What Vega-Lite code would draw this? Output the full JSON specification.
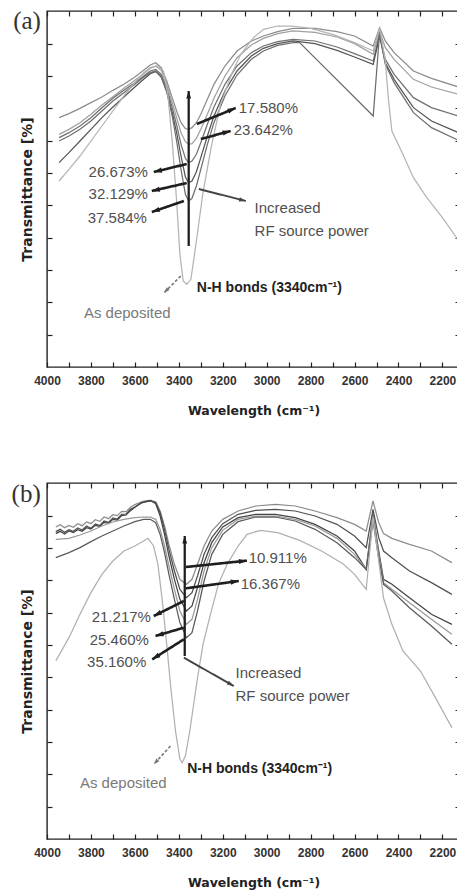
{
  "$schema": "https://vega.github.io/schema/vega-lite/v6.json",
  "background": "white",
  "padding": {"left": 10, "top": 8, "right": 0, "bottom": 0},
  "config": {
    "view": {"stroke": "#222", "strokeWidth": 1.4},
    "axis": {"grid": false, "domain": false, "ticks": true, "tickColor": "#222", "tickWidth": 1.2, "tickSize": -5,
      "labelFont": "Liberation Sans Narrow, Liberation Sans", "labelFontWeight": "bold", "labelFontSize": 12, "labelColor": "#333", "labelPadding": 13,
      "titleFont": "DejaVu Sans", "titleFontWeight": "bold", "titleColor": "#222"}
  },
  "datasets": {
    "specA": [
      {"s":"A1","w":3945,"T":74.8},{"s":"A1","w":3900,"T":76.0},{"s":"A1","w":3850,"T":77.6},{"s":"A1","w":3800,"T":79.3},{"s":"A1","w":3750,"T":81.0},{"s":"A1","w":3700,"T":83.0},{"s":"A1","w":3650,"T":84.8},{"s":"A1","w":3600,"T":87.0},{"s":"A1","w":3560,"T":89.0},{"s":"A1","w":3530,"T":90.6},{"s":"A1","w":3505,"T":91.3},{"s":"A1","w":3480,"T":89.8},{"s":"A1","w":3455,"T":85.8},{"s":"A1","w":3430,"T":80.8},{"s":"A1","w":3410,"T":76.8},{"s":"A1","w":3390,"T":73.3},{"s":"A1","w":3370,"T":71.5},{"s":"A1","w":3355,"T":71.3},{"s":"A1","w":3340,"T":71.8},{"s":"A1","w":3320,"T":73.3},{"s":"A1","w":3300,"T":75.8},{"s":"A1","w":3270,"T":80.3},{"s":"A1","w":3240,"T":84.8},{"s":"A1","w":3190,"T":90.3},{"s":"A1","w":3135,"T":94.8},{"s":"A1","w":3070,"T":97.8},{"s":"A1","w":3015,"T":99.3},{"s":"A1","w":2950,"T":100.6},{"s":"A1","w":2880,"T":101.6},{"s":"A1","w":2780,"T":101.6},{"s":"A1","w":2680,"T":100.6},{"s":"A1","w":2600,"T":99.3},{"s":"A1","w":2515,"T":96.3},{"s":"A1","w":2486,"T":101.8},{"s":"A1","w":2460,"T":97.8},{"s":"A1","w":2420,"T":94.3},{"s":"A1","w":2332,"T":88.8},{"s":"A1","w":2250,"T":86.6},{"s":"A1","w":2127,"T":84.0},
      {"s":"A2","w":3945,"T":69.8},{"s":"A2","w":3900,"T":71.3},{"s":"A2","w":3850,"T":73.3},{"s":"A2","w":3800,"T":75.8},{"s":"A2","w":3750,"T":78.6},{"s":"A2","w":3700,"T":81.1},{"s":"A2","w":3650,"T":83.6},{"s":"A2","w":3600,"T":86.0},{"s":"A2","w":3560,"T":88.0},{"s":"A2","w":3530,"T":89.6},{"s":"A2","w":3505,"T":90.3},{"s":"A2","w":3480,"T":89.0},{"s":"A2","w":3455,"T":84.8},{"s":"A2","w":3430,"T":79.3},{"s":"A2","w":3410,"T":74.8},{"s":"A2","w":3390,"T":70.3},{"s":"A2","w":3370,"T":67.6},{"s":"A2","w":3355,"T":66.8},{"s":"A2","w":3340,"T":67.0},{"s":"A2","w":3320,"T":68.6},{"s":"A2","w":3300,"T":71.3},{"s":"A2","w":3270,"T":75.8},{"s":"A2","w":3240,"T":80.6},{"s":"A2","w":3190,"T":87.3},{"s":"A2","w":3135,"T":92.8},{"s":"A2","w":3070,"T":96.6},{"s":"A2","w":3015,"T":98.6},{"s":"A2","w":2950,"T":100.0},{"s":"A2","w":2880,"T":100.8},{"s":"A2","w":2780,"T":100.4},{"s":"A2","w":2680,"T":99.0},{"s":"A2","w":2600,"T":97.0},{"s":"A2","w":2515,"T":93.8},{"s":"A2","w":2486,"T":100.8},{"s":"A2","w":2460,"T":95.8},{"s":"A2","w":2420,"T":92.3},{"s":"A2","w":2332,"T":86.3},{"s":"A2","w":2250,"T":84.0},{"s":"A2","w":2127,"T":81.8},
      {"s":"A3","w":3945,"T":68.8},{"s":"A3","w":3900,"T":70.3},{"s":"A3","w":3850,"T":72.3},{"s":"A3","w":3800,"T":74.8},{"s":"A3","w":3750,"T":77.8},{"s":"A3","w":3700,"T":80.6},{"s":"A3","w":3650,"T":83.0},{"s":"A3","w":3600,"T":85.3},{"s":"A3","w":3560,"T":87.3},{"s":"A3","w":3530,"T":88.8},{"s":"A3","w":3505,"T":89.3},{"s":"A3","w":3480,"T":87.8},{"s":"A3","w":3455,"T":83.6},{"s":"A3","w":3430,"T":77.8},{"s":"A3","w":3410,"T":72.6},{"s":"A3","w":3390,"T":66.8},{"s":"A3","w":3370,"T":62.6},{"s":"A3","w":3355,"T":61.3},{"s":"A3","w":3340,"T":61.8},{"s":"A3","w":3320,"T":63.8},{"s":"A3","w":3300,"T":67.3},{"s":"A3","w":3270,"T":72.8},{"s":"A3","w":3240,"T":78.0},{"s":"A3","w":3190,"T":84.8},{"s":"A3","w":3135,"T":90.3},{"s":"A3","w":3070,"T":94.3},{"s":"A3","w":3015,"T":96.3},{"s":"A3","w":2950,"T":97.6},{"s":"A3","w":2880,"T":98.3},{"s":"A3","w":2780,"T":97.8},{"s":"A3","w":2680,"T":96.0},{"s":"A3","w":2600,"T":94.0},{"s":"A3","w":2515,"T":91.8},{"s":"A3","w":2486,"T":99.8},{"s":"A3","w":2460,"T":92.3},{"s":"A3","w":2420,"T":87.8},{"s":"A3","w":2332,"T":80.8},{"s":"A3","w":2250,"T":77.8},{"s":"A3","w":2127,"T":75.3},
      {"s":"A4","w":3945,"T":61.3},{"s":"A4","w":3900,"T":64.3},{"s":"A4","w":3850,"T":67.8},{"s":"A4","w":3800,"T":71.3},{"s":"A4","w":3750,"T":74.8},{"s":"A4","w":3700,"T":78.0},{"s":"A4","w":3650,"T":81.0},{"s":"A4","w":3600,"T":84.0},{"s":"A4","w":3560,"T":86.3},{"s":"A4","w":3530,"T":88.0},{"s":"A4","w":3505,"T":88.6},{"s":"A4","w":3480,"T":87.0},{"s":"A4","w":3455,"T":82.6},{"s":"A4","w":3430,"T":76.3},{"s":"A4","w":3410,"T":70.3},{"s":"A4","w":3390,"T":63.3},{"s":"A4","w":3370,"T":57.0},{"s":"A4","w":3355,"T":55.3},{"s":"A4","w":3340,"T":55.8},{"s":"A4","w":3320,"T":58.6},{"s":"A4","w":3300,"T":62.8},{"s":"A4","w":3270,"T":69.3},{"s":"A4","w":3240,"T":75.3},{"s":"A4","w":3190,"T":82.8},{"s":"A4","w":3135,"T":88.8},{"s":"A4","w":3070,"T":93.3},{"s":"A4","w":3015,"T":95.6},{"s":"A4","w":2950,"T":97.0},{"s":"A4","w":2880,"T":97.8},{"s":"A4","w":2780,"T":97.0},{"s":"A4","w":2680,"T":95.0},{"s":"A4","w":2600,"T":93.0},{"s":"A4","w":2515,"T":90.8},{"s":"A4","w":2486,"T":99.3},{"s":"A4","w":2460,"T":91.3},{"s":"A4","w":2420,"T":86.3},{"s":"A4","w":2332,"T":77.8},{"s":"A4","w":2250,"T":73.8},{"s":"A4","w":2127,"T":70.3},
      {"s":"A5","w":3945,"T":67.8},{"s":"A5","w":3900,"T":69.3},{"s":"A5","w":3850,"T":71.3},{"s":"A5","w":3800,"T":73.8},{"s":"A5","w":3750,"T":76.8},{"s":"A5","w":3700,"T":79.8},{"s":"A5","w":3650,"T":82.3},{"s":"A5","w":3600,"T":84.8},{"s":"A5","w":3560,"T":87.0},{"s":"A5","w":3530,"T":88.3},{"s":"A5","w":3505,"T":88.8},{"s":"A5","w":3480,"T":87.3},{"s":"A5","w":3455,"T":82.6},{"s":"A5","w":3430,"T":75.3},{"s":"A5","w":3410,"T":67.8},{"s":"A5","w":3390,"T":59.3},{"s":"A5","w":3370,"T":51.8},{"s":"A5","w":3355,"T":49.8},{"s":"A5","w":3340,"T":50.6},{"s":"A5","w":3320,"T":54.3},{"s":"A5","w":3300,"T":59.3},{"s":"A5","w":3270,"T":66.8},{"s":"A5","w":3240,"T":73.3},{"s":"A5","w":3190,"T":81.3},{"s":"A5","w":3135,"T":87.6},{"s":"A5","w":3070,"T":92.3},{"s":"A5","w":3015,"T":94.8},{"s":"A5","w":2950,"T":96.5},{"s":"A5","w":2880,"T":97.3},{"s":"A5","w":2850,"T":97.3},{"s":"A5","w":2515,"T":75.3},{"s":"A5","w":2486,"T":100.3},{"s":"A5","w":2460,"T":90.8},{"s":"A5","w":2420,"T":85.3},{"s":"A5","w":2332,"T":76.3},{"s":"A5","w":2250,"T":71.8},{"s":"A5","w":2127,"T":68.0},
      {"s":"A0","w":3945,"T":55.8},{"s":"A0","w":3900,"T":59.3},{"s":"A0","w":3850,"T":63.3},{"s":"A0","w":3800,"T":67.8},{"s":"A0","w":3750,"T":72.3},{"s":"A0","w":3700,"T":76.8},{"s":"A0","w":3650,"T":81.3},{"s":"A0","w":3600,"T":85.3},{"s":"A0","w":3560,"T":88.3},{"s":"A0","w":3530,"T":89.8},{"s":"A0","w":3500,"T":90.3},{"s":"A0","w":3470,"T":88.8},{"s":"A0","w":3450,"T":81.8},{"s":"A0","w":3430,"T":67.8},{"s":"A0","w":3410,"T":49.8},{"s":"A0","w":3395,"T":33.8},{"s":"A0","w":3380,"T":25.8},{"s":"A0","w":3364,"T":24.8},{"s":"A0","w":3345,"T":26.3},{"s":"A0","w":3320,"T":37.8},{"s":"A0","w":3290,"T":52.3},{"s":"A0","w":3250,"T":66.8},{"s":"A0","w":3210,"T":78.8},{"s":"A0","w":3160,"T":87.8},{"s":"A0","w":3118,"T":93.8},{"s":"A0","w":3060,"T":98.8},{"s":"A0","w":3014,"T":101.3},{"s":"A0","w":2950,"T":102.3},{"s":"A0","w":2880,"T":102.3},{"s":"A0","w":2800,"T":101.6},{"s":"A0","w":2700,"T":99.8},{"s":"A0","w":2600,"T":97.3},{"s":"A0","w":2515,"T":94.8},{"s":"A0","w":2486,"T":101.8},{"s":"A0","w":2460,"T":91.8},{"s":"A0","w":2445,"T":79.8},{"s":"A0","w":2430,"T":70.8},{"s":"A0","w":2380,"T":63.8},{"s":"A0","w":2332,"T":56.8},{"s":"A0","w":2271,"T":50.8},{"s":"A0","w":2200,"T":44.8},{"s":"A0","w":2127,"T":38.0}
    ],
    "specB": [
      {"s":"B1","w":3960,"T":93.6},{"s":"B1","w":3940,"T":94.3},{"s":"B1","w":3920,"T":93.4},{"s":"B1","w":3900,"T":94.1},{"s":"B1","w":3880,"T":93.5},{"s":"B1","w":3860,"T":94.6},{"s":"B1","w":3840,"T":94.0},{"s":"B1","w":3820,"T":95.1},{"s":"B1","w":3800,"T":94.6},{"s":"B1","w":3780,"T":95.8},{"s":"B1","w":3760,"T":95.3},{"s":"B1","w":3740,"T":96.6},{"s":"B1","w":3720,"T":96.1},{"s":"B1","w":3700,"T":97.3},{"s":"B1","w":3680,"T":97.0},{"s":"B1","w":3660,"T":98.3},{"s":"B1","w":3640,"T":98.2},{"s":"B1","w":3620,"T":99.5},{"s":"B1","w":3600,"T":100.3},{"s":"B1","w":3560,"T":101.4},{"s":"B1","w":3530,"T":101.6},{"s":"B1","w":3505,"T":101.2},{"s":"B1","w":3485,"T":98.4},{"s":"B1","w":3465,"T":93.9},{"s":"B1","w":3445,"T":88.4},{"s":"B1","w":3420,"T":82.4},{"s":"B1","w":3395,"T":77.9},{"s":"B1","w":3365,"T":76.4},{"s":"B1","w":3340,"T":77.9},{"s":"B1","w":3315,"T":82.4},{"s":"B1","w":3285,"T":87.9},{"s":"B1","w":3250,"T":92.4},{"s":"B1","w":3200,"T":95.9},{"s":"B1","w":3130,"T":98.4},{"s":"B1","w":3050,"T":99.9},{"s":"B1","w":2960,"T":100.4},{"s":"B1","w":2870,"T":99.9},{"s":"B1","w":2780,"T":98.4},{"s":"B1","w":2680,"T":96.4},{"s":"B1","w":2600,"T":94.4},{"s":"B1","w":2547,"T":92.4},{"s":"B1","w":2516,"T":101.4},{"s":"B1","w":2490,"T":94.9},{"s":"B1","w":2468,"T":91.6},{"s":"B1","w":2430,"T":90.2},{"s":"B1","w":2350,"T":88.4},{"s":"B1","w":2250,"T":86.4},{"s":"B1","w":2157,"T":82.9},
      {"s":"B2","w":3960,"T":92.2},{"s":"B2","w":3940,"T":92.9},{"s":"B2","w":3920,"T":92.0},{"s":"B2","w":3900,"T":92.8},{"s":"B2","w":3880,"T":92.3},{"s":"B2","w":3860,"T":93.3},{"s":"B2","w":3840,"T":92.7},{"s":"B2","w":3820,"T":93.9},{"s":"B2","w":3800,"T":93.2},{"s":"B2","w":3780,"T":94.5},{"s":"B2","w":3760,"T":94.0},{"s":"B2","w":3740,"T":95.4},{"s":"B2","w":3720,"T":95.0},{"s":"B2","w":3700,"T":96.3},{"s":"B2","w":3680,"T":96.0},{"s":"B2","w":3660,"T":97.4},{"s":"B2","w":3640,"T":97.5},{"s":"B2","w":3620,"T":98.9},{"s":"B2","w":3600,"T":99.6},{"s":"B2","w":3570,"T":100.8},{"s":"B2","w":3530,"T":101.4},{"s":"B2","w":3505,"T":100.9},{"s":"B2","w":3485,"T":97.9},{"s":"B2","w":3465,"T":92.9},{"s":"B2","w":3445,"T":86.9},{"s":"B2","w":3420,"T":80.4},{"s":"B2","w":3395,"T":74.9},{"s":"B2","w":3365,"T":72.4},{"s":"B2","w":3340,"T":73.9},{"s":"B2","w":3315,"T":78.9},{"s":"B2","w":3285,"T":85.4},{"s":"B2","w":3250,"T":90.4},{"s":"B2","w":3200,"T":94.6},{"s":"B2","w":3130,"T":97.4},{"s":"B2","w":3050,"T":98.6},{"s":"B2","w":2960,"T":98.9},{"s":"B2","w":2870,"T":98.4},{"s":"B2","w":2780,"T":96.9},{"s":"B2","w":2680,"T":94.4},{"s":"B2","w":2600,"T":90.9},{"s":"B2","w":2547,"T":87.4},{"s":"B2","w":2516,"T":98.9},{"s":"B2","w":2490,"T":90.4},{"s":"B2","w":2468,"T":86.4},{"s":"B2","w":2430,"T":84.4},{"s":"B2","w":2350,"T":80.4},{"s":"B2","w":2250,"T":76.9},{"s":"B2","w":2157,"T":73.4},
      {"s":"B3","w":3960,"T":91.6},{"s":"B3","w":3940,"T":92.3},{"s":"B3","w":3920,"T":91.5},{"s":"B3","w":3900,"T":92.4},{"s":"B3","w":3880,"T":91.9},{"s":"B3","w":3860,"T":92.8},{"s":"B3","w":3840,"T":92.3},{"s":"B3","w":3820,"T":93.4},{"s":"B3","w":3800,"T":93.0},{"s":"B3","w":3780,"T":94.1},{"s":"B3","w":3760,"T":93.8},{"s":"B3","w":3740,"T":95.0},{"s":"B3","w":3720,"T":94.7},{"s":"B3","w":3700,"T":95.9},{"s":"B3","w":3680,"T":95.7},{"s":"B3","w":3660,"T":97.0},{"s":"B3","w":3640,"T":97.2},{"s":"B3","w":3620,"T":98.5},{"s":"B3","w":3600,"T":99.5},{"s":"B3","w":3570,"T":100.9},{"s":"B3","w":3530,"T":101.6},{"s":"B3","w":3505,"T":100.6},{"s":"B3","w":3485,"T":96.9},{"s":"B3","w":3465,"T":91.4},{"s":"B3","w":3445,"T":84.9},{"s":"B3","w":3420,"T":77.9},{"s":"B3","w":3395,"T":71.9},{"s":"B3","w":3365,"T":68.4},{"s":"B3","w":3340,"T":69.9},{"s":"B3","w":3315,"T":75.4},{"s":"B3","w":3285,"T":82.9},{"s":"B3","w":3250,"T":88.9},{"s":"B3","w":3200,"T":93.6},{"s":"B3","w":3130,"T":96.4},{"s":"B3","w":3050,"T":97.4},{"s":"B3","w":2960,"T":97.4},{"s":"B3","w":2870,"T":96.4},{"s":"B3","w":2780,"T":94.4},{"s":"B3","w":2680,"T":90.9},{"s":"B3","w":2600,"T":86.4},{"s":"B3","w":2547,"T":80.9},{"s":"B3","w":2516,"T":97.4},{"s":"B3","w":2490,"T":86.4},{"s":"B3","w":2468,"T":77.9},{"s":"B3","w":2430,"T":76.4},{"s":"B3","w":2350,"T":72.4},{"s":"B3","w":2250,"T":67.4},{"s":"B3","w":2157,"T":64.4},
      {"s":"B4","w":3960,"T":89.9},{"s":"B4","w":3900,"T":90.2},{"s":"B4","w":3850,"T":91.2},{"s":"B4","w":3800,"T":92.4},{"s":"B4","w":3750,"T":93.9},{"s":"B4","w":3700,"T":95.1},{"s":"B4","w":3650,"T":95.9},{"s":"B4","w":3600,"T":96.4},{"s":"B4","w":3560,"T":96.6},{"s":"B4","w":3530,"T":96.6},{"s":"B4","w":3505,"T":95.9},{"s":"B4","w":3485,"T":92.9},{"s":"B4","w":3465,"T":87.9},{"s":"B4","w":3445,"T":81.9},{"s":"B4","w":3420,"T":74.9},{"s":"B4","w":3395,"T":68.4},{"s":"B4","w":3365,"T":64.4},{"s":"B4","w":3340,"T":65.9},{"s":"B4","w":3315,"T":71.9},{"s":"B4","w":3285,"T":80.4},{"s":"B4","w":3250,"T":87.4},{"s":"B4","w":3200,"T":92.6},{"s":"B4","w":3130,"T":95.9},{"s":"B4","w":3050,"T":96.9},{"s":"B4","w":2960,"T":96.9},{"s":"B4","w":2870,"T":95.9},{"s":"B4","w":2780,"T":93.9},{"s":"B4","w":2680,"T":90.2},{"s":"B4","w":2600,"T":85.4},{"s":"B4","w":2547,"T":80.9},{"s":"B4","w":2516,"T":96.9},{"s":"B4","w":2490,"T":85.4},{"s":"B4","w":2468,"T":76.9},{"s":"B4","w":2430,"T":74.9},{"s":"B4","w":2350,"T":70.9},{"s":"B4","w":2250,"T":65.9},{"s":"B4","w":2157,"T":61.4},
      {"s":"B5","w":3960,"T":84.4},{"s":"B5","w":3900,"T":85.9},{"s":"B5","w":3850,"T":87.4},{"s":"B5","w":3800,"T":89.2},{"s":"B5","w":3750,"T":90.9},{"s":"B5","w":3700,"T":92.4},{"s":"B5","w":3650,"T":93.9},{"s":"B5","w":3600,"T":95.2},{"s":"B5","w":3560,"T":95.9},{"s":"B5","w":3530,"T":95.9},{"s":"B5","w":3505,"T":94.9},{"s":"B5","w":3485,"T":91.4},{"s":"B5","w":3465,"T":85.9},{"s":"B5","w":3445,"T":79.4},{"s":"B5","w":3420,"T":71.9},{"s":"B5","w":3395,"T":64.9},{"s":"B5","w":3365,"T":60.4},{"s":"B5","w":3340,"T":61.9},{"s":"B5","w":3315,"T":68.4},{"s":"B5","w":3285,"T":77.4},{"s":"B5","w":3250,"T":85.4},{"s":"B5","w":3200,"T":91.4},{"s":"B5","w":3130,"T":95.2},{"s":"B5","w":3050,"T":96.6},{"s":"B5","w":2960,"T":96.6},{"s":"B5","w":2870,"T":95.4},{"s":"B5","w":2780,"T":92.9},{"s":"B5","w":2680,"T":88.9},{"s":"B5","w":2600,"T":84.4},{"s":"B5","w":2547,"T":80.9},{"s":"B5","w":2516,"T":95.4},{"s":"B5","w":2490,"T":84.4},{"s":"B5","w":2468,"T":76.4},{"s":"B5","w":2430,"T":74.4},{"s":"B5","w":2350,"T":69.4},{"s":"B5","w":2250,"T":63.9},{"s":"B5","w":2157,"T":58.4},
      {"s":"B0","w":3960,"T":53.4},{"s":"B0","w":3900,"T":60.4},{"s":"B0","w":3850,"T":67.4},{"s":"B0","w":3800,"T":73.9},{"s":"B0","w":3750,"T":79.4},{"s":"B0","w":3700,"T":83.4},{"s":"B0","w":3650,"T":86.4},{"s":"B0","w":3600,"T":87.9},{"s":"B0","w":3560,"T":89.4},{"s":"B0","w":3540,"T":90.2},{"s":"B0","w":3515,"T":87.9},{"s":"B0","w":3495,"T":82.4},{"s":"B0","w":3475,"T":71.4},{"s":"B0","w":3455,"T":58.4},{"s":"B0","w":3435,"T":44.4},{"s":"B0","w":3415,"T":32.4},{"s":"B0","w":3395,"T":23.9},{"s":"B0","w":3385,"T":22.9},{"s":"B0","w":3370,"T":24.9},{"s":"B0","w":3350,"T":32.4},{"s":"B0","w":3317,"T":47.4},{"s":"B0","w":3290,"T":58.4},{"s":"B0","w":3256,"T":67.4},{"s":"B0","w":3220,"T":76.4},{"s":"B0","w":3180,"T":82.4},{"s":"B0","w":3130,"T":87.9},{"s":"B0","w":3089,"T":91.4},{"s":"B0","w":3029,"T":92.6},{"s":"B0","w":2950,"T":91.9},{"s":"B0","w":2850,"T":89.6},{"s":"B0","w":2750,"T":86.4},{"s":"B0","w":2650,"T":82.4},{"s":"B0","w":2600,"T":79.4},{"s":"B0","w":2547,"T":74.9},{"s":"B0","w":2516,"T":96.4},{"s":"B0","w":2490,"T":83.4},{"s":"B0","w":2468,"T":72.3},{"s":"B0","w":2430,"T":64.4},{"s":"B0","w":2380,"T":56.4},{"s":"B0","w":2300,"T":50.4},{"s":"B0","w":2240,"T":43.4},{"s":"B0","w":2157,"T":33.4}
    ],
    "arrows": [
      {"p":"a","k":"vert","x1":3355,"y1":36.3,"x2":3355,"y2":82.8},
      {"p":"a","k":"thick","x1":3318,"y1":72.9,"x2":3141,"y2":77.7},
      {"p":"a","k":"thick","x1":3300,"y1":68.4,"x2":3164,"y2":70.8},
      {"p":"a","k":"thick","x1":3364,"y1":60.9,"x2":3514,"y2":58.5},
      {"p":"a","k":"thick","x1":3364,"y1":55.2,"x2":3523,"y2":52.8},
      {"p":"a","k":"thick","x1":3377,"y1":49.8,"x2":3523,"y2":46.5},
      {"p":"a","k":"thin","x1":3309,"y1":53.4,"x2":3095,"y2":49.8},
      {"p":"a","k":"dash","x1":3391,"y1":27.3,"x2":3468,"y2":22.2},
      {"p":"b","k":"vert","x1":3373,"y1":54.9,"x2":3373,"y2":90.9},
      {"p":"b","k":"thick","x1":3368,"y1":81.6,"x2":3090,"y2":83.5},
      {"p":"b","k":"thick","x1":3368,"y1":75.2,"x2":3127,"y2":77.4},
      {"p":"b","k":"thick","x1":3377,"y1":71.4,"x2":3514,"y2":66.9},
      {"p":"b","k":"thick","x1":3377,"y1":63.4,"x2":3506,"y2":60.9},
      {"p":"b","k":"thick","x1":3377,"y1":59.9,"x2":3521,"y2":53.9},
      {"p":"b","k":"thin","x1":3377,"y1":54.4,"x2":3150,"y2":45.9},
      {"p":"b","k":"dash","x1":3438,"y1":27.9,"x2":3514,"y2":22.4}
    ],
    "labels": [
      {"p":"a","r":"L","w":3127,"T":77.7,"t":"17.580%"},
      {"p":"a","r":"L","w":3150,"T":71.1,"t":"23.642%"},
      {"p":"a","r":"R","w":3541,"T":58.5,"t":"26.673%"},
      {"p":"a","r":"R","w":3541,"T":51.9,"t":"32.129%"},
      {"p":"a","r":"R","w":3545,"T":44.7,"t":"37.584%"},
      {"p":"a","r":"L","w":3055,"T":47.7,"t":"Increased"},
      {"p":"a","r":"L","w":3055,"T":40.8,"t":"RF source power"},
      {"p":"a","r":"B","w":3318,"T":23.7,"t":"N-H bonds (3340cm⁻¹)"},
      {"p":"a","r":"G","w":3832,"T":16.2,"t":"As deposited"},
      {"p":"a","r":"P","w":4091,"T":103.8,"t":"(a)"},
      {"p":"b","r":"L","w":3082,"T":84.4,"t":"10.911%"},
      {"p":"b","r":"L","w":3118,"T":76.6,"t":"16.367%"},
      {"p":"b","r":"R","w":3527,"T":66.7,"t":"21.217%"},
      {"p":"b","r":"R","w":3536,"T":59.6,"t":"25.460%"},
      {"p":"b","r":"R","w":3548,"T":53.2,"t":"35.160%"},
      {"p":"b","r":"L","w":3142,"T":49.9,"t":"Increased"},
      {"p":"b","r":"L","w":3142,"T":42.9,"t":"RF source power"},
      {"p":"b","r":"B","w":3362,"T":20.9,"t":"N-H bonds (3340cm⁻¹)"},
      {"p":"b","r":"G","w":3850,"T":16.9,"t":"As deposited"},
      {"p":"b","r":"P","w":4095,"T":103.5,"t":"(b)"}
    ]
  },
  "bounds": "flush",
  "spacing": 116,
  "resolve": {"scale": {"x": "independent", "y": "independent", "color": "independent", "stroke": "independent", "fill": "independent", "size": "independent", "strokeWidth": "independent", "strokeDash": "independent"}},
  "vconcat": [
    {
      "width": 413, "height": 356,
      "layer": [
        {
          "data": {"name": "specA"},
          "mark": {"type": "line", "strokeWidth": 1.25, "clip": true},
          "encoding": {
            "x": {"field": "w", "type": "quantitative", "scale": {"domain": [4000, 2120], "nice": false, "zero": false},
              "axis": {"orient": "bottom", "values": [4000,3900,3800,3700,3600,3500,3400,3300,3200,3100,3000,2900,2800,2700,2600,2500,2400,2300,2200], "format": "d", "labelExpr": "datum.value % 200 === 0 ? datum.label : ''", "labelFlush": false, "labelOverlap": false, "title": "Wavelength (cm⁻¹)", "titleFontSize": 12.5, "titlePadding": 18}},
            "y": {"field": "T", "type": "quantitative", "scale": {"domain": [0, 106.8], "nice": false, "zero": false},
              "axis": {"orient": "left", "values": [9.7,19.4,29.1,38.8,48.5,58.2,67.9,77.6,87.3,97.0], "labels": false, "title": "Transmittance [%]", "titleFontSize": 14, "titlePadding": 12}},
            "color": {"field": "s", "type": "nominal", "scale": {"domain": ["A0","A1","A2","A3","A4","A5"], "range": ["#b4b4b4","#8c8c8c","#a0a0a0","#707070","#555555","#6e6e6e"]}, "legend": null}
          }
        },
        {
          "data": {"name": "arrows"},
          "transform": [{"filter": "datum.p === 'a'"}],
          "mark": {"type": "rule"},
          "encoding": {
            "x": {"field": "x1", "type": "quantitative", "scale": {"domain": [4000, 2120], "nice": false, "zero": false},
              "axis": {"orient": "top", "values": [4000,3900,3800,3700,3600,3500,3400,3300,3200,3100,3000,2900,2800,2700,2600,2500,2400,2300,2200], "labels": false, "title": null}},
            "y": {"field": "y1", "type": "quantitative", "scale": {"domain": [0, 106.8], "nice": false, "zero": false},
              "axis": {"orient": "right", "values": [9.7,19.4,29.1,38.8,48.5,58.2,67.9,77.6,87.3,97.0], "labels": false, "title": null}},
            "x2": {"field": "x2"}, "y2": {"field": "y2"},
            "stroke": {"field": "k", "type": "nominal", "scale": {"domain": ["thick","vert","thin","dash"], "range": ["#1e1e1e","#1e1e1e","#444444","#777777"]}, "legend": null},
            "strokeWidth": {"field": "k", "type": "ordinal", "scale": {"domain": ["thick","vert","thin","dash"], "range": [2.6, 1.6, 1, 1]}, "legend": null},
            "strokeDash": {"field": "k", "type": "nominal", "scale": {"domain": ["thick","vert","thin","dash"], "range": [[1,0],[1,0],[1,0],[3,2]]}, "legend": null}
          }
        },
        {
          "data": {"name": "arrows"},
          "transform": [{"filter": "datum.p === 'a'"}, {"calculate": "atan2(-(datum.x2 - datum.x1) * 0.2197, (datum.y2 - datum.y1) * 3.333) * 180 / PI", "as": "ang"}],
          "mark": {"type": "point", "filled": true, "opacity": 1, "shape": "M0,0L0.55,1.7L-0.55,1.7Z", "strokeWidth": 0},
          "encoding": {
            "x": {"field": "x2", "type": "quantitative", "scale": {"domain": [4000, 2120], "nice": false, "zero": false}, "axis": null},
            "y": {"field": "y2", "type": "quantitative", "scale": {"domain": [0, 106.8], "nice": false, "zero": false}, "axis": null},
            "angle": {"field": "ang", "type": "quantitative", "scale": null},
            "size": {"field": "k", "type": "ordinal", "scale": {"domain": ["thick","vert","thin","dash"], "range": [90, 50, 40, 30]}, "legend": null},
            "fill": {"field": "k", "type": "nominal", "scale": {"domain": ["thick","vert","thin","dash"], "range": ["#1e1e1e","#1e1e1e","#444444","#777777"]}, "legend": null}
          }
        },
        {
          "data": {"name": "labels"},
          "transform": [{"filter": "datum.p === 'a' && datum.r === 'L'"}],
          "mark": {"type": "text", "align": "left", "baseline": "middle", "font": "Liberation Sans", "fontSize": 15, "fill": "#505050"},
          "encoding": {
            "x": {"field": "w", "type": "quantitative", "scale": {"domain": [4000, 2120], "nice": false, "zero": false}, "axis": null},
            "y": {"field": "T", "type": "quantitative", "scale": {"domain": [0, 106.8], "nice": false, "zero": false}, "axis": null},
            "text": {"field": "t"}
          }
        },
        {
          "data": {"name": "labels"},
          "transform": [{"filter": "datum.p === 'a' && datum.r === 'R'"}],
          "mark": {"type": "text", "align": "right", "baseline": "middle", "font": "Liberation Sans", "fontSize": 15, "fill": "#505050"},
          "encoding": {
            "x": {"field": "w", "type": "quantitative", "scale": {"domain": [4000, 2120], "nice": false, "zero": false}, "axis": null},
            "y": {"field": "T", "type": "quantitative", "scale": {"domain": [0, 106.8], "nice": false, "zero": false}, "axis": null},
            "text": {"field": "t"}
          }
        },
        {
          "data": {"name": "labels"},
          "transform": [{"filter": "datum.p === 'a' && datum.r === 'B'"}],
          "mark": {"type": "text", "align": "left", "baseline": "middle", "font": "Liberation Sans", "fontWeight": "bold", "fontSize": 14, "fill": "#222"},
          "encoding": {
            "x": {"field": "w", "type": "quantitative", "scale": {"domain": [4000, 2120], "nice": false, "zero": false}, "axis": null},
            "y": {"field": "T", "type": "quantitative", "scale": {"domain": [0, 106.8], "nice": false, "zero": false}, "axis": null},
            "text": {"field": "t"}
          }
        },
        {
          "data": {"name": "labels"},
          "transform": [{"filter": "datum.p === 'a' && datum.r === 'G'"}],
          "mark": {"type": "text", "align": "left", "baseline": "middle", "font": "Liberation Sans", "fontSize": 15, "fill": "#7a7a7a"},
          "encoding": {
            "x": {"field": "w", "type": "quantitative", "scale": {"domain": [4000, 2120], "nice": false, "zero": false}, "axis": null},
            "y": {"field": "T", "type": "quantitative", "scale": {"domain": [0, 106.8], "nice": false, "zero": false}, "axis": null},
            "text": {"field": "t"}
          }
        },
        {
          "data": {"name": "labels"},
          "transform": [{"filter": "datum.p === 'a' && datum.r === 'P'"}],
          "mark": {"type": "text", "align": "center", "baseline": "middle", "font": "Liberation Serif", "fontSize": 25, "fill": "#333"},
          "encoding": {
            "x": {"field": "w", "type": "quantitative", "scale": {"domain": [4000, 2120], "nice": false, "zero": false}, "axis": null},
            "y": {"field": "T", "type": "quantitative", "scale": {"domain": [0, 106.8], "nice": false, "zero": false}, "axis": null},
            "text": {"field": "t"}
          }
        }
      ]
    },
    {
      "width": 413, "height": 356,
      "layer": [
        {
          "data": {"name": "specB"},
          "mark": {"type": "line", "strokeWidth": 1.25, "clip": true},
          "encoding": {
            "x": {"field": "w", "type": "quantitative", "scale": {"domain": [4000, 2120], "nice": false, "zero": false},
              "axis": {"orient": "bottom", "values": [4000,3900,3800,3700,3600,3500,3400,3300,3200,3100,3000,2900,2800,2700,2600,2500,2400,2300,2200], "format": "d", "labelExpr": "datum.value % 200 === 0 ? datum.label : ''", "labelFlush": false, "labelOverlap": false, "title": "Wavelength (cm⁻¹)", "titleFontSize": 12.5, "titlePadding": 18}},
            "y": {"field": "T", "type": "quantitative", "scale": {"domain": [0, 106.8], "nice": false, "zero": false},
              "axis": {"orient": "left", "values": [9.7,19.4,29.1,38.8,48.5,58.2,67.9,77.6,87.3,97.0], "labels": false, "title": "Transmittance [%]", "titleFontSize": 14, "titlePadding": 12}},
            "color": {"field": "s", "type": "nominal", "scale": {"domain": ["B0","B1","B2","B3","B4","B5"], "range": ["#b0b0b0","#8c8c8c","#505050","#444444","#999999","#5a5a5a"]}, "legend": null}
          }
        },
        {
          "data": {"name": "arrows"},
          "transform": [{"filter": "datum.p === 'b'"}],
          "mark": {"type": "rule"},
          "encoding": {
            "x": {"field": "x1", "type": "quantitative", "scale": {"domain": [4000, 2120], "nice": false, "zero": false},
              "axis": {"orient": "top", "values": [4000,3900,3800,3700,3600,3500,3400,3300,3200,3100,3000,2900,2800,2700,2600,2500,2400,2300,2200], "labels": false, "title": null}},
            "y": {"field": "y1", "type": "quantitative", "scale": {"domain": [0, 106.8], "nice": false, "zero": false},
              "axis": {"orient": "right", "values": [9.7,19.4,29.1,38.8,48.5,58.2,67.9,77.6,87.3,97.0], "labels": false, "title": null}},
            "x2": {"field": "x2"}, "y2": {"field": "y2"},
            "stroke": {"field": "k", "type": "nominal", "scale": {"domain": ["thick","vert","thin","dash"], "range": ["#1e1e1e","#1e1e1e","#444444","#777777"]}, "legend": null},
            "strokeWidth": {"field": "k", "type": "ordinal", "scale": {"domain": ["thick","vert","thin","dash"], "range": [2.6, 1.6, 1, 1]}, "legend": null},
            "strokeDash": {"field": "k", "type": "nominal", "scale": {"domain": ["thick","vert","thin","dash"], "range": [[1,0],[1,0],[1,0],[3,2]]}, "legend": null}
          }
        },
        {
          "data": {"name": "arrows"},
          "transform": [{"filter": "datum.p === 'b'"}, {"calculate": "atan2(-(datum.x2 - datum.x1) * 0.2197, (datum.y2 - datum.y1) * 3.333) * 180 / PI", "as": "ang"}],
          "mark": {"type": "point", "filled": true, "opacity": 1, "shape": "M0,0L0.55,1.7L-0.55,1.7Z", "strokeWidth": 0},
          "encoding": {
            "x": {"field": "x2", "type": "quantitative", "scale": {"domain": [4000, 2120], "nice": false, "zero": false}, "axis": null},
            "y": {"field": "y2", "type": "quantitative", "scale": {"domain": [0, 106.8], "nice": false, "zero": false}, "axis": null},
            "angle": {"field": "ang", "type": "quantitative", "scale": null},
            "size": {"field": "k", "type": "ordinal", "scale": {"domain": ["thick","vert","thin","dash"], "range": [90, 50, 40, 30]}, "legend": null},
            "fill": {"field": "k", "type": "nominal", "scale": {"domain": ["thick","vert","thin","dash"], "range": ["#1e1e1e","#1e1e1e","#444444","#777777"]}, "legend": null}
          }
        },
        {
          "data": {"name": "labels"},
          "transform": [{"filter": "datum.p === 'b' && datum.r === 'L'"}],
          "mark": {"type": "text", "align": "left", "baseline": "middle", "font": "Liberation Sans", "fontSize": 15, "fill": "#505050"},
          "encoding": {
            "x": {"field": "w", "type": "quantitative", "scale": {"domain": [4000, 2120], "nice": false, "zero": false}, "axis": null},
            "y": {"field": "T", "type": "quantitative", "scale": {"domain": [0, 106.8], "nice": false, "zero": false}, "axis": null},
            "text": {"field": "t"}
          }
        },
        {
          "data": {"name": "labels"},
          "transform": [{"filter": "datum.p === 'b' && datum.r === 'R'"}],
          "mark": {"type": "text", "align": "right", "baseline": "middle", "font": "Liberation Sans", "fontSize": 15, "fill": "#505050"},
          "encoding": {
            "x": {"field": "w", "type": "quantitative", "scale": {"domain": [4000, 2120], "nice": false, "zero": false}, "axis": null},
            "y": {"field": "T", "type": "quantitative", "scale": {"domain": [0, 106.8], "nice": false, "zero": false}, "axis": null},
            "text": {"field": "t"}
          }
        },
        {
          "data": {"name": "labels"},
          "transform": [{"filter": "datum.p === 'b' && datum.r === 'B'"}],
          "mark": {"type": "text", "align": "left", "baseline": "middle", "font": "Liberation Sans", "fontWeight": "bold", "fontSize": 14, "fill": "#222"},
          "encoding": {
            "x": {"field": "w", "type": "quantitative", "scale": {"domain": [4000, 2120], "nice": false, "zero": false}, "axis": null},
            "y": {"field": "T", "type": "quantitative", "scale": {"domain": [0, 106.8], "nice": false, "zero": false}, "axis": null},
            "text": {"field": "t"}
          }
        },
        {
          "data": {"name": "labels"},
          "transform": [{"filter": "datum.p === 'b' && datum.r === 'G'"}],
          "mark": {"type": "text", "align": "left", "baseline": "middle", "font": "Liberation Sans", "fontSize": 15, "fill": "#7a7a7a"},
          "encoding": {
            "x": {"field": "w", "type": "quantitative", "scale": {"domain": [4000, 2120], "nice": false, "zero": false}, "axis": null},
            "y": {"field": "T", "type": "quantitative", "scale": {"domain": [0, 106.8], "nice": false, "zero": false}, "axis": null},
            "text": {"field": "t"}
          }
        },
        {
          "data": {"name": "labels"},
          "transform": [{"filter": "datum.p === 'b' && datum.r === 'P'"}],
          "mark": {"type": "text", "align": "center", "baseline": "middle", "font": "Liberation Serif", "fontSize": 25, "fill": "#333"},
          "encoding": {
            "x": {"field": "w", "type": "quantitative", "scale": {"domain": [4000, 2120], "nice": false, "zero": false}, "axis": null},
            "y": {"field": "T", "type": "quantitative", "scale": {"domain": [0, 106.8], "nice": false, "zero": false}, "axis": null},
            "text": {"field": "t"}
          }
        }
      ]
    }
  ]
}
